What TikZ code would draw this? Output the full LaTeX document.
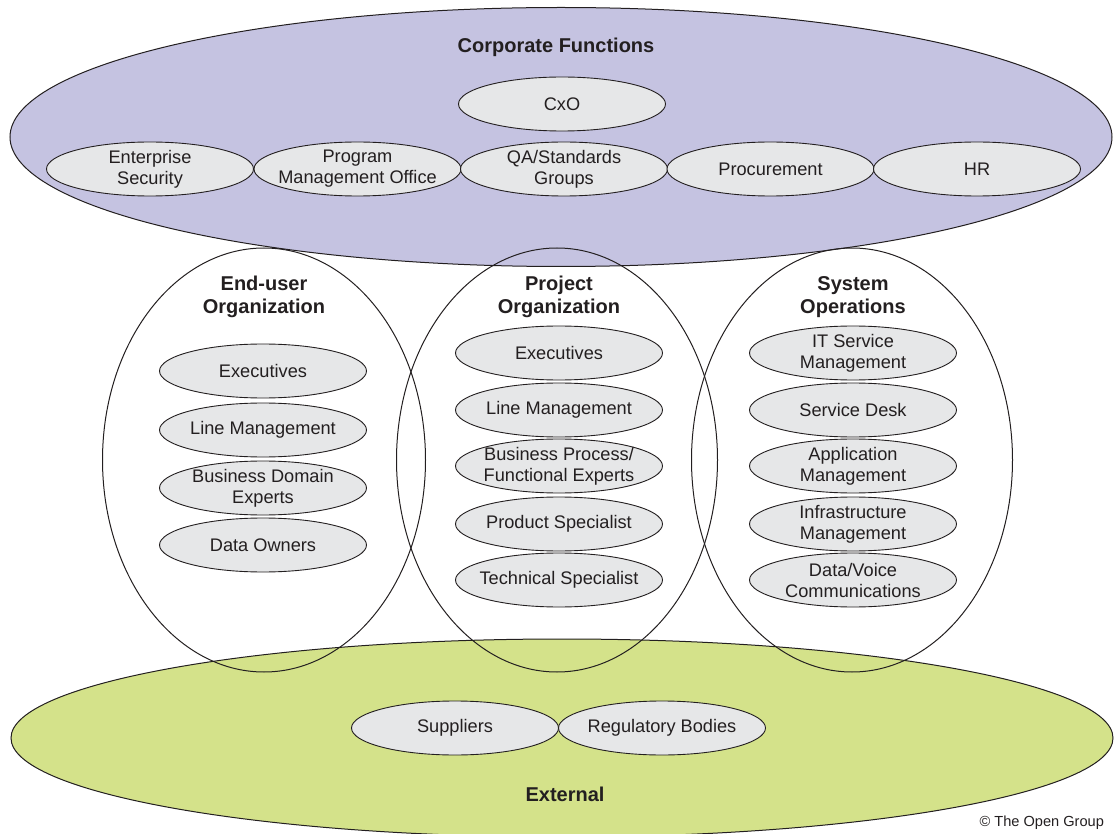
\documentclass[tikz,border=0pt]{standalone}
\usepackage{fontspec}
\setmainfont{Liberation Sans}
\usetikzlibrary{shapes.geometric}
\definecolor{corpfill}{RGB}{197,195,225}
\definecolor{extfill}{RGB}{212,226,138}
\definecolor{rolefill}{RGB}{230,231,232}
\definecolor{rimgray}{RGB}{35,31,32}
\newcommand{\rolefont}{\fontsize{9.1}{10.5}\selectfont}
\newcommand{\headfont}{\fontsize{10}{11.7}\selectfont\bfseries}
\tikzset{
  group/.style={ellipse, draw=rimgray, line width=0.5pt, inner sep=0pt},
  role/.style={ellipse, draw=rimgray, fill=rolefill, line width=0.45pt,
    minimum width=103.5pt, minimum height=27pt, inner xsep=-12pt, inner ysep=-3pt,
    align=center, text=rimgray, font=\rolefont},
  heading/.style={align=center, text=rimgray, font=\headfont}
}
\begin{document}
\begin{tikzpicture}[x=0.5pt, y=-0.5pt]
\useasboundingbox (0,0) rectangle (1114,834);
% outer groups
\node[group, fill=corpfill, minimum width=551pt, minimum height=129.5pt] (corp) at (561,137) {};
\node[group, fill=extfill, minimum width=551pt, minimum height=99pt] (ext) at (562,738) {};
\node[group, minimum width=161.5pt, minimum height=212pt] (enduser) at (264,460) {};
\node[group, minimum width=160.5pt, minimum height=212pt] (project) at (557,460) {};
\node[group, minimum width=160.5pt, minimum height=212pt] (sysops) at (852,460) {};
% headings
\node[heading] (corptitle) at (556,47) {Corporate Functions};
\node[heading] (eutitle) at (264,297) {End-user\\Organization};
\node[heading] (prtitle) at (559,297) {Project\\Organization};
\node[heading] (sotitle) at (853,297) {System\\Operations};
\node[heading] (exttitle) at (565,794) {External};
% corporate functions
\node[role] (cxo) at (562,104) {CxO};
\foreach \n/\x/\t in {{1/150/Enterprise\\Security}, {2/357.5/Program\\Management Office},
    {3/564/QA\slash Standards\\Groups}, {4/770.5/Procurement}, {5/977/HR}}
  \node[role] (cf\n) at (\x,169) {\t};
% end-user organization
\foreach \n/\y/\t in {{1/371/Executives}, {2/430/Line Management},
    {3/488/Business Domain\\Experts}, {4/545/Data Owners}}
  \node[role] (eu\n) at (263,\y) {\t};
% project organization
\foreach \n/\y/\t in {{1/353/Executives}, {2/410/Line Management},
    {3/466/Business Process\slash\\Functional Experts}, {4/524/Product Specialist},
    {5/580/Technical Specialist}}
  \node[role] (pr\n) at (559,\y) {\t};
% system operations
\foreach \n/\y/\t in {{1/353/IT Service\\Management}, {2/410/Service Desk},
    {3/466/Application\\Management}, {4/524/Infrastructure\\Management},
    {5/580/Data\slash Voice\\Communications}}
  \node[role] (so\n) at (853,\y) {\t};
% external
\node[role] (suppliers) at (455,728) {Suppliers};
\node[role] (regbodies) at (662,728) {Regulatory Bodies};
\node[text=rimgray, font=\fontsize{7.3}{8.5}\selectfont, anchor=east] (copy) at (1111,823) {\textcopyright{} The Open Group};
\end{tikzpicture}
\end{document}
